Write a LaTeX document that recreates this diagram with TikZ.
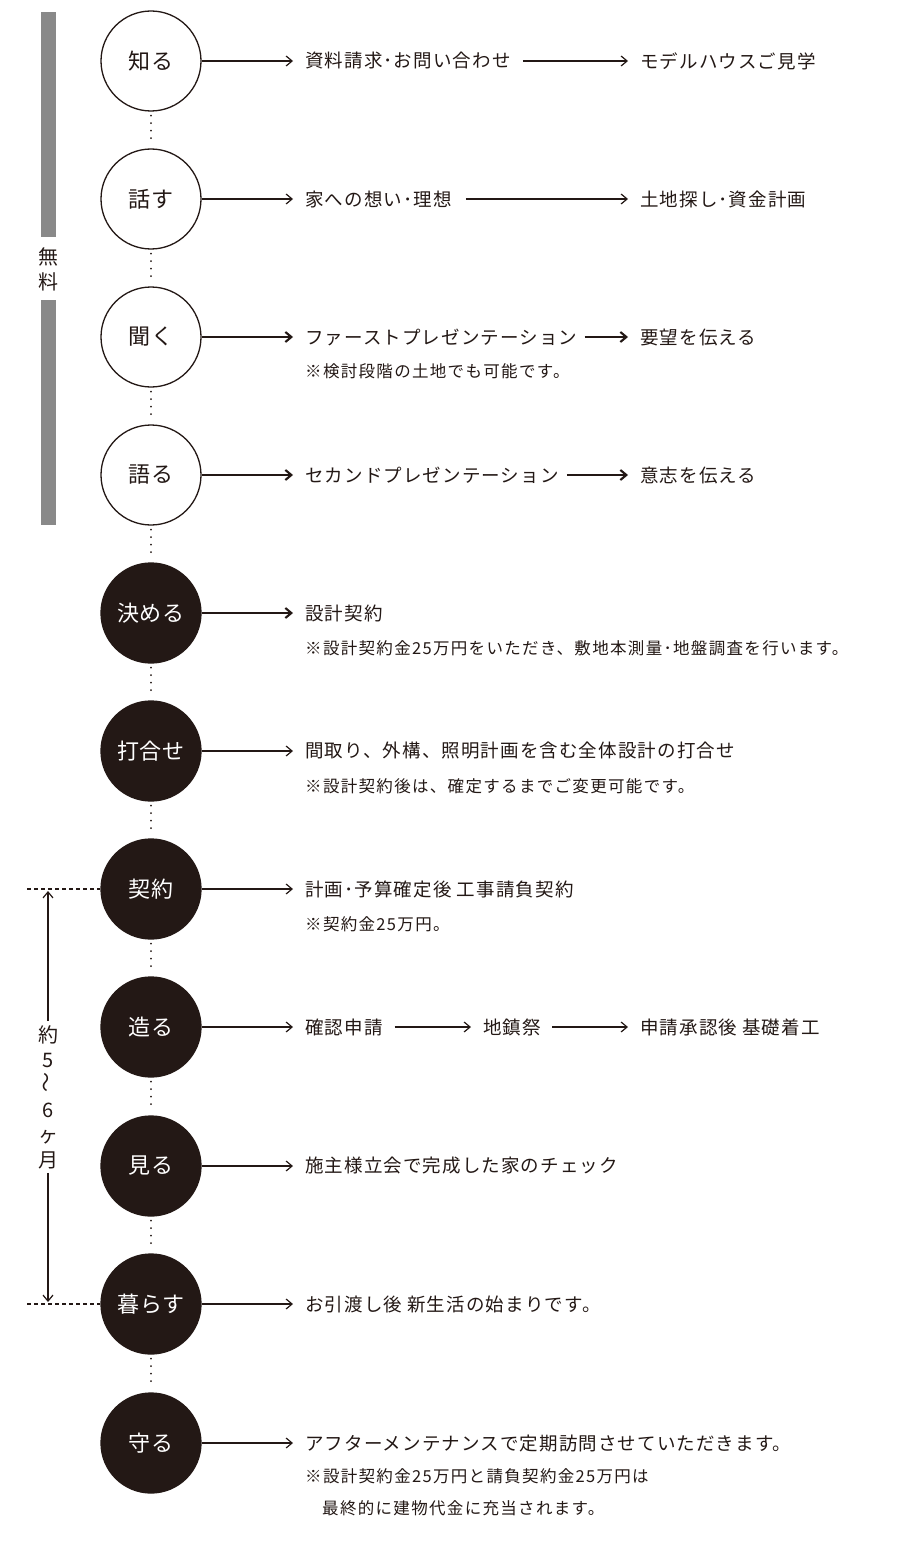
\documentclass[tikz,border=0pt]{standalone}
\usepackage{fontspec}
\setmainfont{Noto Sans CJK JP}
\newfontfamily\circfont{Noto Sans CJK JP}[LetterSpace=3]
\newfontfamily\txtfont{Noto Sans CJK JP}[LetterSpace=6]
\newfontfamily\notefont{Noto Sans CJK JP}[LetterSpace=8]
\newfontfamily\sidefont{Noto Sans CJK JP}
\usetikzlibrary{arrows.meta}
\definecolor{ink}{RGB}{35,24,21}
\definecolor{bargray}{RGB}{137,137,137}
\tikzset{
  stage/.style={circle, minimum size=100pt, inner sep=0pt, draw=ink, line width=1.3pt,
    font=\circfont\fontsize{22}{24}\selectfont},
  openstage/.style={stage, fill=white, text=ink},
  darkstage/.style={stage, fill=ink, text=white},
  lbl/.style={anchor=west, inner sep=0pt, text=ink, font=\txtfont\fontsize{18.5}{20}\selectfont},
  note/.style={anchor=west, inner sep=0pt, text=ink, align=left, font=\notefont\fontsize{16.5}{32}\selectfont},
  side/.style={inner sep=0pt, text=ink, align=center, font=\sidefont\fontsize{20}{25}\selectfont},
  flow/.style={draw=ink, line width=1.2pt, -{Straight Barb[length=6pt,width=10pt]}, shorten >=12pt},
  boldflow/.style={flow, line width=2.1pt},
  dots/.style={draw=ink, line width=1.9pt, dash pattern=on 0pt off 7.5pt, line cap=round, shorten >=4pt, shorten <=4pt},
  guide/.style={draw=ink, line width=1.1pt, dash pattern=on 4pt off 3pt},
  span/.style={draw=ink, line width=1.2pt, -{Straight Barb[length=6pt,width=10pt]}, shorten <=4pt},
}
\begin{document}
\begin{tikzpicture}[x=1pt,y=-1pt]
\useasboundingbox (0,0) rectangle (902,1546);

% gray bars and label
\fill[bargray] (41,12) rectangle (56,237);
\fill[bargray] (41,300) rectangle (56,525);
\node[side] (free) at (48,269.5) {無\\料};

% stage circles
\node[openstage] (s1) at (151,61) {知る};
\node[openstage] (s2) at (151,199) {話す};
\node[openstage] (s3) at (151,337) {聞く};
\node[openstage] (s4) at (151,475) {語る};
\node[darkstage] (s5) at (151,613) {決める};
\node[darkstage] (s6) at (151,751) {打合せ};
\node[darkstage] (s7) at (151,889) {契約};
\node[darkstage] (s8) at (151,1027) {造る};
\node[darkstage] (s9) at (151,1166) {見る};
\node[darkstage] (s10) at (151,1304) {暮らす};
\node[darkstage] (s11) at (151,1443) {守る};

% dotted links
\foreach \a/\b in {s1/s2,s2/s3,s3/s4,s4/s5,s5/s6,s6/s7,s7/s8,s8/s9,s9/s10,s10/s11}
  \draw[dots] (\a.south) -- (\b.north);

% row texts
\node[lbl] (a1) at (305,61) {資料請求･お問い合わせ};
\node[lbl] (b1) at (640,61) {モデルハウスご見学};
\node[lbl] (a2) at (305,199) {家への想い･理想};
\node[lbl] (b2) at (640,199) {土地探し･資金計画};
\node[lbl] (a3) at (305,337) {ファーストプレゼンテーション};
\node[lbl] (b3) at (640,337) {要望を伝える};
\node[note] (n3) at (305,371) {※検討段階の土地でも可能です。};
\node[lbl] (a4) at (305,475) {セカンドプレゼンテーション};
\node[lbl] (b4) at (640,475) {意志を伝える};
\node[lbl] (a5) at (305,613) {設計契約};
\node[note] (n5) at (305,648) {※設計契約金25万円をいただき、敷地本測量･地盤調査を行います。};
\node[lbl] (a6) at (305,751) {間取り、外構、照明計画を含む全体設計の打合せ};
\node[note] (n6) at (305,786) {※設計契約後は、確定するまでご変更可能です。};
\node[lbl] (a7) at (305,889) {計画･予算確定後 工事請負契約};
\node[note] (n7) at (305,924) {※契約金25万円。};
\node[lbl] (a8) at (305,1027) {確認申請};
\node[lbl] (b8) at (483,1027) {地鎮祭};
\node[lbl] (c8) at (640,1027) {申請承認後 基礎着工};
\node[lbl] (a9) at (305,1166) {施主様立会で完成した家のチェック};
\node[lbl] (a10) at (305,1304) {お引渡し後 新生活の始まりです。};
\node[lbl] (a11) at (305,1443) {アフターメンテナンスで定期訪問させていただきます。};
\node[note] (n11) at (305,1492) {※設計契約金25万円と請負契約金25万円は\\\hspace*{17pt}最終的に建物代金に充当されます。};

% arrows from circles
\draw[flow] (s1.east) -- (s1.east -| a1.west);
\draw[flow] (s2.east) -- (s2.east -| a2.west);
\draw[boldflow] (s3.east) -- (s3.east -| a3.west);
\draw[boldflow] (s4.east) -- (s4.east -| a4.west);
\draw[boldflow] (s5.east) -- (s5.east -| a5.west);
\draw[flow] (s6.east) -- (s6.east -| a6.west);
\draw[flow] (s7.east) -- (s7.east -| a7.west);
\draw[flow] (s8.east) -- (s8.east -| a8.west);
\draw[flow] (s9.east) -- (s9.east -| a9.west);
\draw[flow] (s10.east) -- (s10.east -| a10.west);
\draw[flow] (s11.east) -- (s11.east -| a11.west);

% arrows between texts
\draw[flow, shorten <=12pt] (a1.east) -- (a1.east -| b1.west);
\draw[flow, shorten <=14pt] (a2.east) -- (a2.east -| b2.west);
\draw[boldflow, shorten <=7pt] (a3.east) -- (a3.east -| b3.west);
\draw[boldflow, shorten <=8pt] (a4.east) -- (a4.east -| b4.west);
\draw[flow, shorten <=12pt] (a8.east) -- (a8.east -| b8.west);
\draw[flow, shorten <=11pt] (b8.east) -- (b8.east -| c8.west);

% duration bracket
\coordinate (g1) at (27,889);
\coordinate (g2) at (27,1304);
\coordinate (m1) at (48,891);
\coordinate (m2) at (48,1302);
\draw[guide] (g1) -- (s7.west);
\draw[guide] (g2) -- (s10.west);
\node[side] (dur) at (48,1097) {約\\5\\\rotatebox{90}{〜}\\6\\ヶ\\月};
\draw[span] (dur.north) -- (m1);
\draw[span] (dur.south) -- (m2);
\end{tikzpicture}
\end{document}
